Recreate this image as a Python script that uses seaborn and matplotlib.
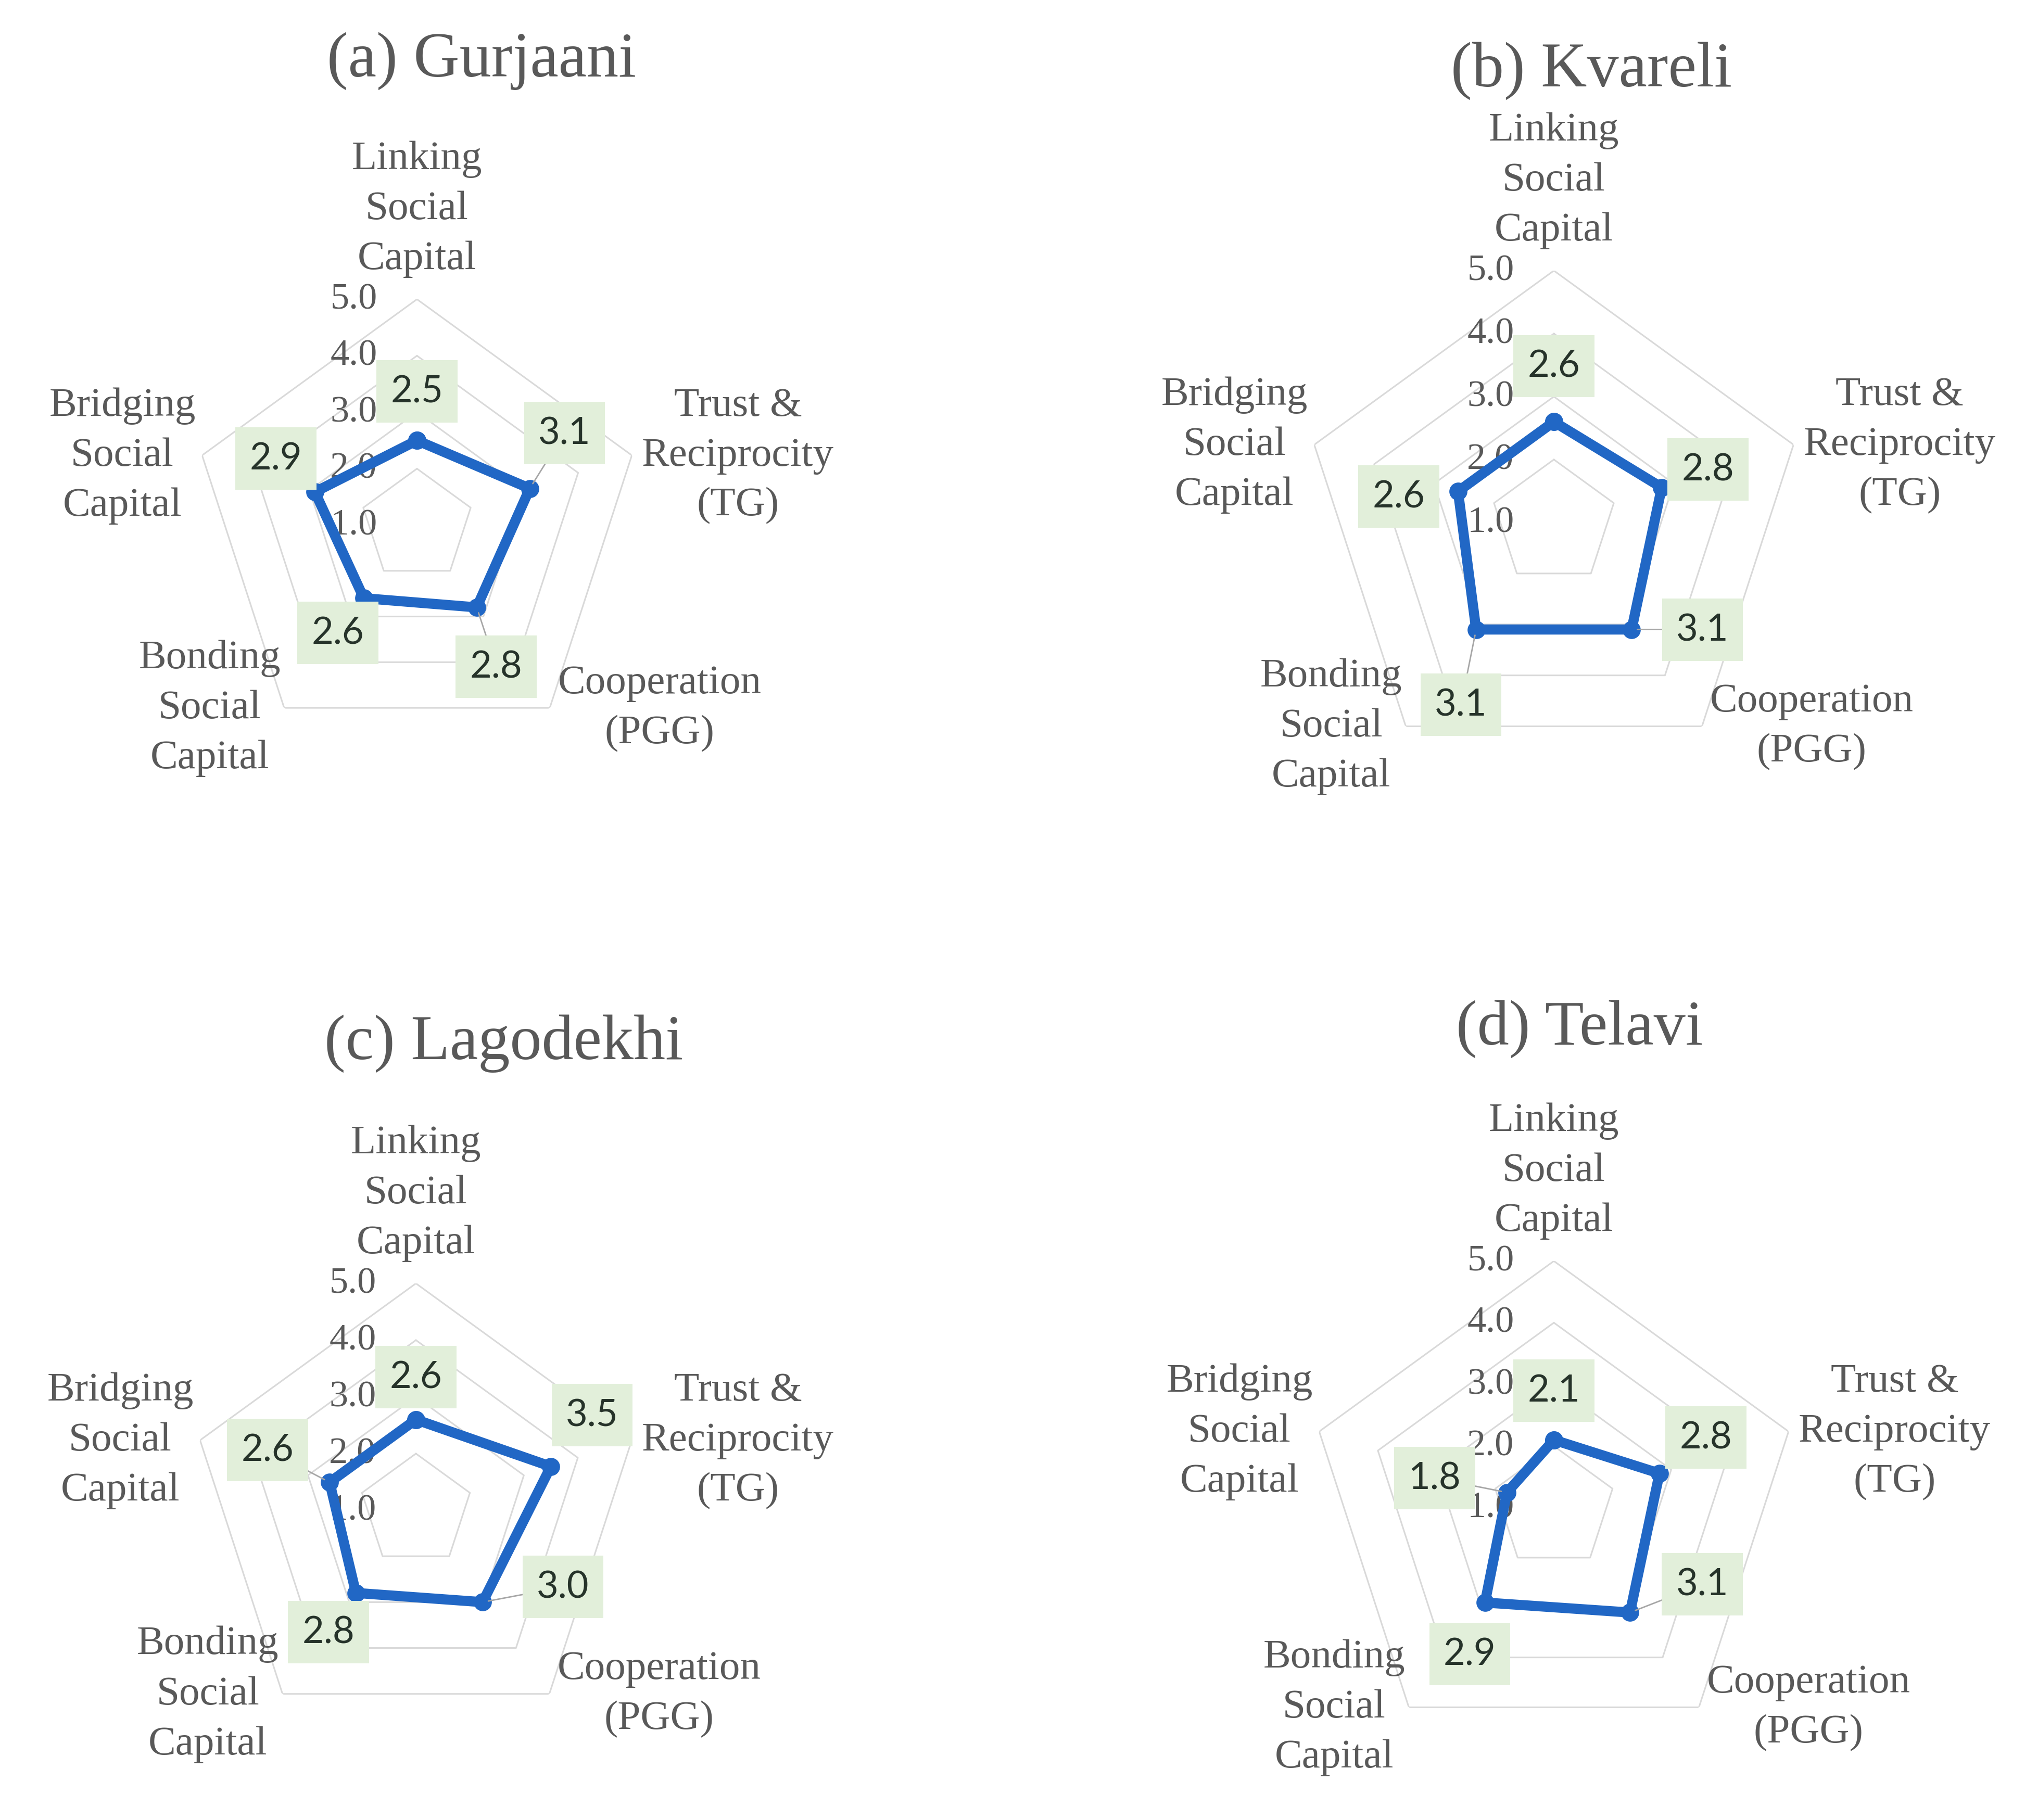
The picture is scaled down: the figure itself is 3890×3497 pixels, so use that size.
import numpy as np
import pandas as pd
import seaborn as sns
import matplotlib.pyplot as plt

### DATA ###
categories = ['Linking\nSocial\nCapital', 'Trust &\nReciprocity\n(TG)', 'Cooperation\n(PGG)',
              'Bonding\nSocial\nCapital', 'Bridging\nSocial\nCapital']
titles = ['(a) Gurjaani', '(b) Kvareli', '(c) Lagodekhi', '(d) Telavi']
gurjaani = [2.5, 3.1, 2.8, 2.6, 2.9]
kvareli = [2.6, 2.8, 3.1, 3.1, 2.6]
lagodekhi = [2.6, 3.5, 3.0, 2.8, 2.6]
telavi = [2.1, 2.8, 3.1, 2.9, 1.8]
levels = [1.0, 2.0, 3.0, 4.0, 5.0]
series = [gurjaani, kvareli, lagodekhi, telavi]

### LAYOUT (pixels of the 3890x3498 canvas) ###
W, H = 3890, 3498
centers = [(801, 1010), (2985, 1005), (799, 2903), (2985, 2898)]
radii = [434, 484, 436, 474]
title_pos = [(925, 117), (3057, 136), (968, 2005), (3034, 1977)]
# category label offsets (points) from the outer vertex
cat_off = [(0, 30, 'center', 'bottom'), (14, 0, 'left', 'center'), (11, 0, 'left', 'center'),
           (-5, 0, 'right', 'center'), (-9, 0, 'right', 'center')]
# data label offsets (points) from the point, and whether a leader line shows
lab_off = [[(0, 68), (48, 77), (27, -82), (-36, -48), (-54, 46)],
           [(0, 77), (64, 25), (98, 0), (-21, -104), (-82, -7)],
           [(0, 59), (57, 71), (111, 21), (-38, -54), (-86, 45)],
           [(0, 68), (64, 50), (100, 39), (-21, -71), (-100, 20)]]
leaders = [[0, 1, 1, 0, 0], [0, 0, 1, 1, 0], [0, 0, 1, 0, 1], [0, 0, 1, 0, 1]]

sns.set_theme(style='white')
plt.rcParams['font.family'] = ['Liberation Serif', 'DejaVu Serif']

BLUE = '#2167C5'
GRID = '#D9D9D9'
GRAY = '#595959'
BOX = '#E2EFDA'

fig = plt.figure(figsize=(W / 100, H / 100), dpi=100)
theta = np.arange(len(categories)) * 2 * np.pi / len(categories)
theta_closed = np.append(theta, theta[0] + 2 * np.pi)

for k in range(4):
    cx, cy = centers[k]
    R = radii[k]
    ax = fig.add_axes([(cx - R) / W, (H - cy - R) / H, 2 * R / W, 2 * R / H], projection='polar')
    ax.set_theta_offset(np.pi / 2)
    ax.set_theta_direction(-1)
    ax.grid(False)
    ax.spines['polar'].set_visible(False)
    ax.patch.set_alpha(0)

    # pentagon gridlines
    for lv in levels[1:]:
        ax.plot(theta_closed, [lv] * len(theta_closed), color=GRID, lw=2.2, zorder=1)

    # radial tick labels
    for lv in levels:
        ax.annotate(f'{lv:.1f}', xy=(0, lv), xytext=(-55, 0), textcoords='offset points',
                    ha='right', va='center', fontsize=52, color=GRAY, zorder=1.5)

    # series
    vals = series[k]
    df = pd.DataFrame({'theta': theta_closed, 'value': vals + [vals[0]]})
    sns.lineplot(data=df, x='theta', y='value', sort=False, estimator=None, ax=ax,
                 color=BLUE, lw=14, marker='o', markersize=25, markeredgewidth=0, zorder=3)
    ax.set_xlabel('')
    ax.set_ylabel('')
    ax.set_xticks([])
    ax.set_yticks([])
    ax.set_ylim(levels[0], levels[-1])

    # category labels
    for i, cat in enumerate(categories):
        dx, dy, ha, va = cat_off[i]
        ax.annotate(cat, xy=(theta[i], levels[-1]), xytext=(dx, dy), textcoords='offset points',
                    ha=ha, va=va, multialignment='center', fontsize=57, color=GRAY,
                    linespacing=1.45, annotation_clip=False)

    # data labels
    for i, v in enumerate(vals):
        dx, dy = lab_off[k][i]
        arrow = dict(arrowstyle='-', color='#A6A6A6', lw=2, shrinkA=0, shrinkB=8) if leaders[k][i] else None
        ax.annotate(f'{v:.1f}', xy=(theta[i], v), xytext=(dx, dy), textcoords='offset points',
                    ha='center', va='center', fontsize=52, family=['Lato', 'DejaVu Sans'],
                    color='#26332A', arrowprops=arrow, annotation_clip=False, zorder=5,
                    bbox=dict(boxstyle='square,pad=0.38', fc=BOX, ec='none'))

    tx, ty = title_pos[k]
    fig.text(tx / W, 1 - ty / H, titles[k], ha='center', va='center', fontsize=88, color=GRAY)

fig.savefig('out.png', dpi=100, facecolor='white')
